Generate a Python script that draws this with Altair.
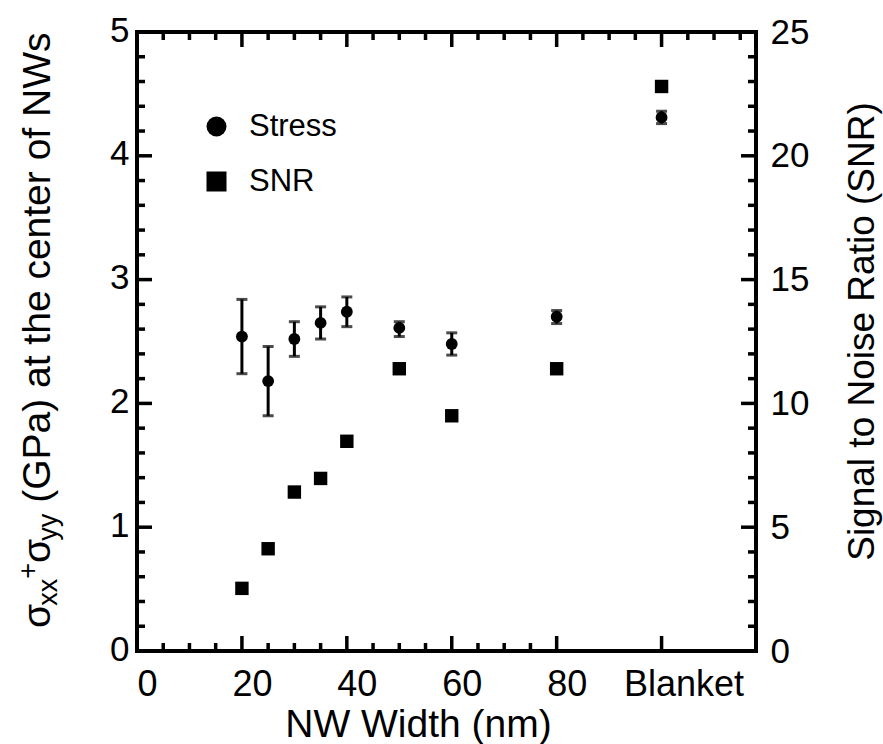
import altair as alt
import pandas as pd

FONT = "Liberation Sans"
W, H = 619, 619

# ---- data ----
widths = [20, 25, 30, 35, 40, 50, 60, 80, 100]          # 100 = "Blanket"
stress = [2.54, 2.18, 2.52, 2.65, 2.74, 2.61, 2.48, 2.70, 4.31]
stress_lo = [2.24, 1.90, 2.38, 2.52, 2.62, 2.54, 2.39, 2.645, 4.26]
stress_hi = [2.84, 2.46, 2.66, 2.78, 2.86, 2.66, 2.57, 2.75, 4.36]
snr = [2.53, 4.13, 6.42, 6.97, 8.47, 11.4, 9.5, 11.4, 22.8]
series = ["Stress", "SNR"]

# ---- axis tick values / labels ----
x_tick_values = [0, 20, 40, 60, 80, 100]
x_tick_labels = ["0", "20", "40", "60", "80", "Blanket"]
x_minor_bottom = [5, 10, 15, 25, 30, 35, 45, 50, 55, 65, 70, 75]
x_minor_top = [5, 10, 15, 25, 30, 35, 45, 50, 55, 65, 70, 75, 85, 90, 95, 105, 110, 115]
x_major_top = [20, 40, 60, 80, 100]
y_left_values = [0, 1, 2, 3, 4, 5]
y_minor = [0.2, 0.4, 0.6, 0.8, 1.2, 1.4, 1.6, 1.8, 2.2, 2.4, 2.6, 2.8,
           3.2, 3.4, 3.6, 3.8, 4.2, 4.4, 4.6, 4.8]
snr_values = [0, 5, 10, 15, 20, 25]

df_stress = pd.DataFrame({"w": widths, "stress": stress, "lo": stress_lo,
                          "hi": stress_hi, "series": series[0]})
df_snr = pd.DataFrame({"w": widths, "snr": snr, "series": series[1]})

xscale = alt.Scale(domain=[0, 118], nice=False, zero=False)
yscale = alt.Scale(domain=[0, 5], nice=False, zero=False)
snrscale = alt.Scale(domain=[0, 25], nice=False, zero=False)
shape_scale = alt.Scale(domain=series, range=["circle", "square"])

label_expr = " : ".join(
    [f"datum.value == {v} ? '{l}'" for v, l in zip(x_tick_values, x_tick_labels)]
) + " : datum.label"

legend = alt.Legend(title=None, orient="none", legendX=64, legendY=79,
                    symbolSize=400, symbolFillColor="black", symbolStrokeColor="black",
                    symbolStrokeWidth=0, labelFont=FONT, labelFontSize=31,
                    labelColor="black", labelOffset=17, rowPadding=23, padding=0)

x_axis = alt.Axis(values=x_tick_values, labelExpr=label_expr, ticks=False, tickSize=0,
                  domain=False, grid=False, labelFontSize=36, labelPadding=16,
                  labelFlush=False, labelOverlap=False,
                  labelOffset={"condition": {"test": "datum.value == 100", "value": 22}, "value": 10},
                  title="NW Width (nm)", titleFontSize=39, titleFontWeight="normal",
                  titleX=281, titleY=85, titleAlign="center", titleBaseline="alphabetic")

y_axis = alt.Axis(values=y_left_values, ticks=False, tickSize=0, domain=False, grid=False,
                  labelFontSize=35, labelPadding=8, labelOffset=-2, labelFlush=False,
                  labelOverlap=False, title=None)

snr_axis = alt.Axis(orient="right", values=snr_values, ticks=False, tickSize=0, domain=False,
                    grid=False, labelFontSize=35, labelPadding=14, labelFlush=False,
                    labelOverlap=False, title="Signal to Noise Ratio (SNR)",
                    titleFontSize=37, titleFontWeight="normal", titleAngle=270,
                    titleX=117, titleY=299, titleAlign="center", titleBaseline="alphabetic")

X = lambda f: alt.X(f, scale=xscale, axis=x_axis)
Y = lambda f: alt.Y(f, scale=yscale, axis=y_axis)

# ---- data layers ----
err_rule = alt.Chart(df_stress).mark_rule(color="black", strokeWidth=3).encode(
    x=X("w:Q"), y=Y("lo:Q"), y2="hi:Q")
cap_lo = alt.Chart(df_stress).mark_tick(color="black", orient="horizontal", size=11,
                                        thickness=3).encode(x=X("w:Q"), y=Y("lo:Q"))
cap_hi = alt.Chart(df_stress).mark_tick(color="black", orient="horizontal", size=11,
                                        thickness=3).encode(x=X("w:Q"), y=Y("hi:Q"))
circles = alt.Chart(df_stress).mark_point(filled=True, size=140, color="black",
                                          opacity=1).encode(
    x=X("w:Q"), y=Y("stress:Q"),
    shape=alt.Shape("series:N", scale=shape_scale, legend=legend))

squares = alt.Chart(df_snr).mark_point(filled=True, size=180, color="black",
                                       opacity=1).encode(
    x=X("w:Q"),
    y=alt.Y("snr:Q", scale=snrscale, axis=snr_axis),
    shape=alt.Shape("series:N", scale=shape_scale, legend=legend))


# ---- inward frame ticks ----
def yticks(values, length, side):
    d = pd.DataFrame({"v": values})
    if side == "left":
        xa, xb = alt.value(0), alt.value(length)
    else:
        xa, xb = alt.value(W), alt.value(W - length)
    return alt.Chart(d).mark_rule(color="black", strokeWidth=3.5).encode(
        y=Y("v:Q"), x=xa, x2=xb)


def xticks(values, length, side):
    d = pd.DataFrame({"v": values})
    if side == "bottom":
        ya, yb = alt.value(H), alt.value(H - length)
    else:
        ya, yb = alt.value(0), alt.value(length)
    return alt.Chart(d).mark_rule(color="black", strokeWidth=3.5).encode(
        x=X("v:Q"), y=ya, y2=yb)


tick_layers = [
    yticks(y_left_values, 15, "left"), yticks(y_minor, 8, "left"),
    yticks(y_left_values, 15, "right"), yticks(y_minor, 8, "right"),
    xticks(x_tick_values, 15, "bottom"), xticks(x_minor_bottom, 8, "bottom"),
    xticks(x_major_top, 15, "top"), xticks(x_minor_top, 8, "top"),
]

# ---- left axis title with sub/superscripts ----
one = pd.DataFrame({"k": [0]})
F, S = 39, 27
title_parts = [("σ", F, 0), ("xx", S, 7), ("+", S, -13), ("σ", F, 0), ("yy", S, 7),
               ("(GPa) at the center of NWs", F, 0)]
advances = [0.571 * F, 2 * 0.5 * S, 0.584 * S, 0.571 * F, 2 * 0.5 * S + 0.278 * F, 0]
title_layers = []
pos = 0.0
for (txt, fs, shift), adv in zip(title_parts, advances):
    title_layers.append(
        alt.Chart(one).mark_text(text=txt, angle=270, align="left", baseline="alphabetic",
                                 fontSize=fs, font=FONT, color="black", dx=pos, dy=shift)
        .encode(x=alt.value(-87), y=alt.value(596)))
    pos += adv

left_group = alt.layer(*tick_layers, err_rule, cap_lo, cap_hi, circles, *title_layers)
right_group = alt.layer(squares)

chart = (alt.layer(left_group, right_group)
         .resolve_scale(y="independent")
         .properties(width=W, height=H, autosize=alt.AutoSizeParams(type="none"),
                     padding={"left": 137, "top": 32, "right": 127, "bottom": 93},
                     background="white")
         .configure_view(stroke="black", strokeWidth=4)
         .configure_axis(labelFont=FONT, titleFont=FONT, labelColor="black",
                         titleColor="black"))

chart.save("out.html", embed_options={"renderer": "svg", "actions": False})
